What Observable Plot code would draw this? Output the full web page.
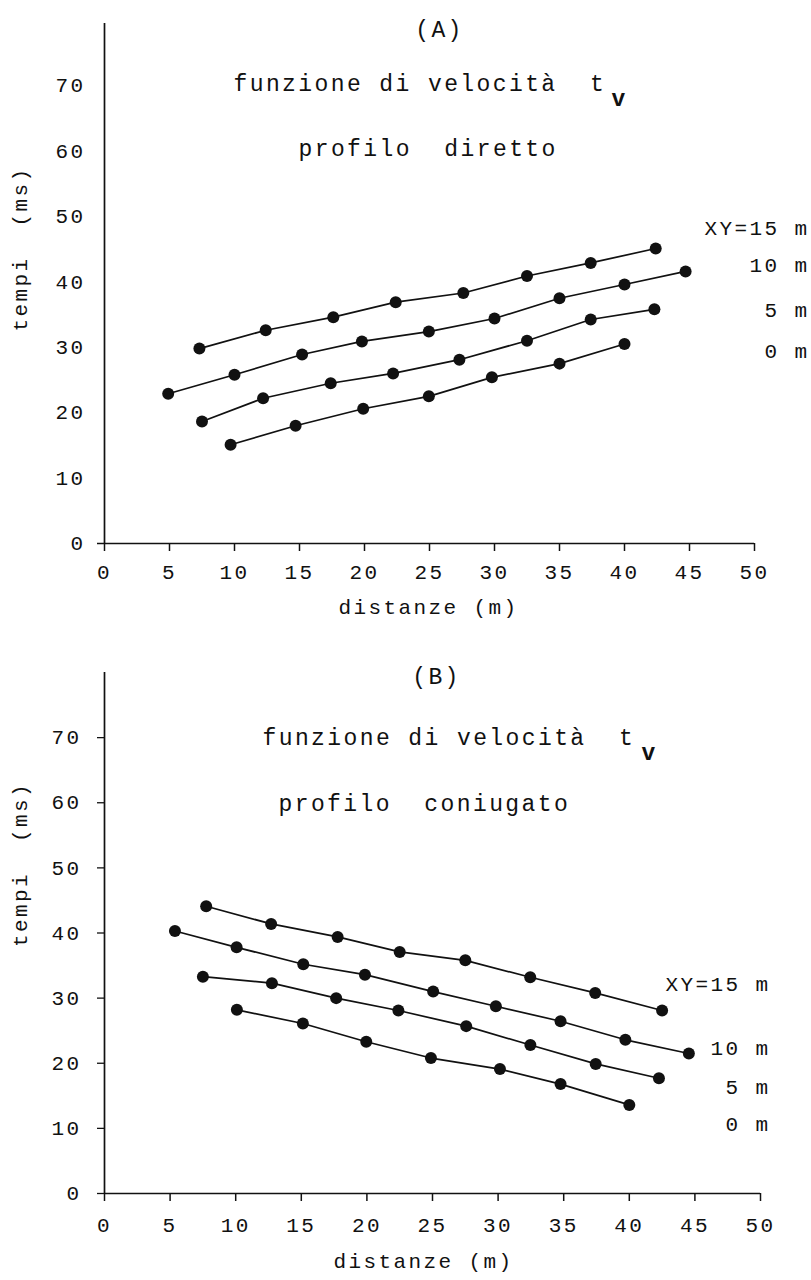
<!DOCTYPE html>
<html>
<head>
<meta charset="utf-8">
<script src="https://cdn.jsdelivr.net/npm/d3@7"></script>
<script src="https://cdn.jsdelivr.net/npm/@observablehq/plot@0.6"></script>
<style>
  body { margin: 0; background: #fff; }
  #wrap { width: 811px; }
  #wrap svg { display: block; }
</style>
</head>
<body>
<div id="wrap"></div>
<script>
// ---------- shared axis ticks / labels ----------
const xTicks = [0, 5, 10, 15, 20, 25, 30, 35, 40, 45, 50];
const yTicks = [0, 10, 20, 30, 40, 50, 60, 70];
const seriesNames = ["XY=15 m", "10 m", "5 m", "0 m"];
const xLabel = "distanze (m)";
const yLabel = "tempi  (ms)";
const titleLine = "funzione di velocità  t";
const titleSub = "v";

// ---------- Panel A : profilo diretto ----------
const aX15 = [7.3, 12.4, 17.6, 22.4, 27.6, 32.5, 37.4, 42.4];
const aY15 = [29.8, 32.6, 34.6, 36.9, 38.3, 40.9, 42.9, 45.1];
const aX10 = [4.9, 10.0, 15.2, 19.8, 24.95, 30.0, 35.0, 40.0, 44.7];
const aY10 = [22.9, 25.8, 28.9, 30.9, 32.4, 34.4, 37.5, 39.6, 41.6];
const aX5  = [7.5, 12.2, 17.4, 22.2, 27.3, 32.5, 37.4, 42.3];
const aY5  = [18.65, 22.2, 24.5, 26.0, 28.1, 31.0, 34.25, 35.8];
const aX0  = [9.7, 14.7, 19.9, 24.95, 29.8, 35.0, 40.0];
const aY0  = [15.1, 18.0, 20.6, 22.5, 25.4, 27.5, 30.5];
const aLabelY = [48.2, 42.5, 35.6, 29.4];

// ---------- Panel B : profilo coniugato ----------
const bX15 = [7.75, 12.7, 17.77, 22.5, 27.5, 32.45, 37.4, 42.5];
const bY15 = [44.1, 41.4, 39.4, 37.1, 35.8, 33.2, 30.8, 28.1];
const bX10 = [5.37, 10.07, 15.15, 19.85, 25.05, 29.83, 34.76, 39.7, 44.54];
const bY10 = [40.3, 37.8, 35.2, 33.6, 31.0, 28.75, 26.45, 23.6, 21.5];
const bX5  = [7.5, 12.76, 17.66, 22.4, 27.57, 32.46, 37.44, 42.26];
const bY5  = [33.3, 32.3, 30.0, 28.1, 25.7, 22.8, 19.9, 17.7];
const bX0  = [10.09, 15.12, 19.95, 24.88, 30.14, 34.76, 40.0];
const bY0  = [28.2, 26.1, 23.3, 20.8, 19.1, 16.8, 13.6];
const bLabelY = [32.2, 22.3, 16.3, 10.7];

function rows(name, xs, ys) {
  return xs.map((x, i) => ({ s: name, x, y: ys[i] }));
}

const dataA = [
  ...rows(seriesNames[0], aX15, aY15),
  ...rows(seriesNames[1], aX10, aY10),
  ...rows(seriesNames[2], aX5, aY5),
  ...rows(seriesNames[3], aX0, aY0)
];
const dataB = [
  ...rows(seriesNames[0], bX15, bY15),
  ...rows(seriesNames[1], bX10, bY10),
  ...rows(seriesNames[2], bX5, bY5),
  ...rows(seriesNames[3], bX0, bY0)
];

const ink = "#111";
const FONT = "'Liberation Mono', 'DejaVu Sans Mono', monospace";

function panel(cfg) {
  const labels = seriesNames.map((t, i) => ({ t, y: cfg.labelY[i] }));
  return Plot.plot({
    width: 811,
    height: 640,
    marginLeft: 104,
    marginRight: cfg.marginRight,
    marginTop: cfg.marginTop,
    marginBottom: cfg.marginBottom,
    x: { domain: [0, 50] },
    y: { domain: [0, cfg.yMax] },
    style: {
      fontFamily: FONT,
      fontSize: "21px",
      letterSpacing: "2.4px",
      color: ink,
      background: "#fff",
      overflow: "visible"
    },
    marks: [
      Plot.ruleX([0], { stroke: ink, strokeWidth: 1.7 }),
      Plot.ruleY([0], { stroke: ink, strokeWidth: 1.7 }),
      Plot.axisX({ ticks: xTicks, tickSize: 8, tickPadding: cfg.xPad, label: null, fontSize: 21, strokeWidth: 1.5 }),
      cfg.yTickAll
        ? Plot.axisY({ ticks: yTicks, tickSize: 7, tickPadding: cfg.yPad, label: null, fontSize: 21, strokeWidth: 1.3 })
        : Plot.axisY({ ticks: yTicks, tickSize: 0, tickPadding: cfg.yPad, label: null, fontSize: 21 }),
      cfg.yTickAll ? null : Plot.axisY({ ticks: [0], tickSize: 7, tickFormat: () => "", label: null, strokeWidth: 1.5 }),
      Plot.line(cfg.data, { x: "x", y: "y", z: "s", stroke: ink, strokeWidth: 1.7 }),
      Plot.dot(cfg.data, { x: "x", y: "y", r: 6, fill: ink, stroke: "none" }),
      Plot.text(labels, { text: "t", y: "y", frameAnchor: "right", textAnchor: "end", dx: cfg.labelDx, fontSize: 21, fill: ink }),
      // axis titles
      Plot.text([xLabel], { frameAnchor: "bottom", dx: cfg.xlDx, dy: cfg.xlDy, fontSize: 21, fill: ink }),
      Plot.text([yLabel], { frameAnchor: "left", rotate: -90, dx: -84, dy: cfg.ylDy, fontSize: 21, fill: ink }),
      // panel titles
      Plot.text([cfg.tag], { frameAnchor: "top", dx: cfg.tagDx, dy: cfg.tagDy, fontSize: 23, fill: ink }),
      Plot.text([titleLine], { frameAnchor: "top-left", textAnchor: "start", dx: cfg.t1Dx, dy: cfg.t1Dy, fontSize: 23, fill: ink }),
      Plot.text([titleSub], { frameAnchor: "top-left", textAnchor: "start", dx: cfg.subDx, dy: cfg.subDy, fontSize: 23, fontWeight: "bold", fill: ink }),
      Plot.text([cfg.t2], { frameAnchor: "top-left", textAnchor: "start", dx: cfg.t2Dx, dy: cfg.t2Dy, fontSize: 23, fill: ink })
    ].filter(Boolean)
  });
}

const wrap = document.getElementById("wrap");

wrap.append(panel({
  data: dataA,
  labelY: aLabelY,
  yMax: 79.5,
  marginRight: 57,
  marginTop: 23,
  marginBottom: 97,
  xPad: 13,
  yPad: 19,
  yTickAll: false,
  labelDx: 55,
  xlDx: -1, xlDy: 70,
  ylDy: 48,
  tag: "(A)", tagDx: 10, tagDy: -3,
  t1Dx: 129, t1Dy: 51,
  subDx: 507, subDy: 66,
  t2: "profilo  diretto", t2Dx: 194, t2Dy: 116
}));

wrap.append(panel({
  data: dataB,
  labelY: bLabelY,
  yMax: 80,
  marginRight: 51,
  marginTop: 32,
  marginBottom: 87,
  xPad: 16,
  yPad: 16,
  yTickAll: true,
  labelDx: 10,
  xlDx: -9, xlDy: 74,
  ylDy: 14,
  tag: "(B)", tagDx: 4, tagDy: -5,
  t1Dx: 158, t1Dy: 56,
  subDx: 537, subDy: 71,
  t2: "profilo  coniugato", t2Dx: 174, t2Dy: 122
}));
</script>
</body>
</html>
